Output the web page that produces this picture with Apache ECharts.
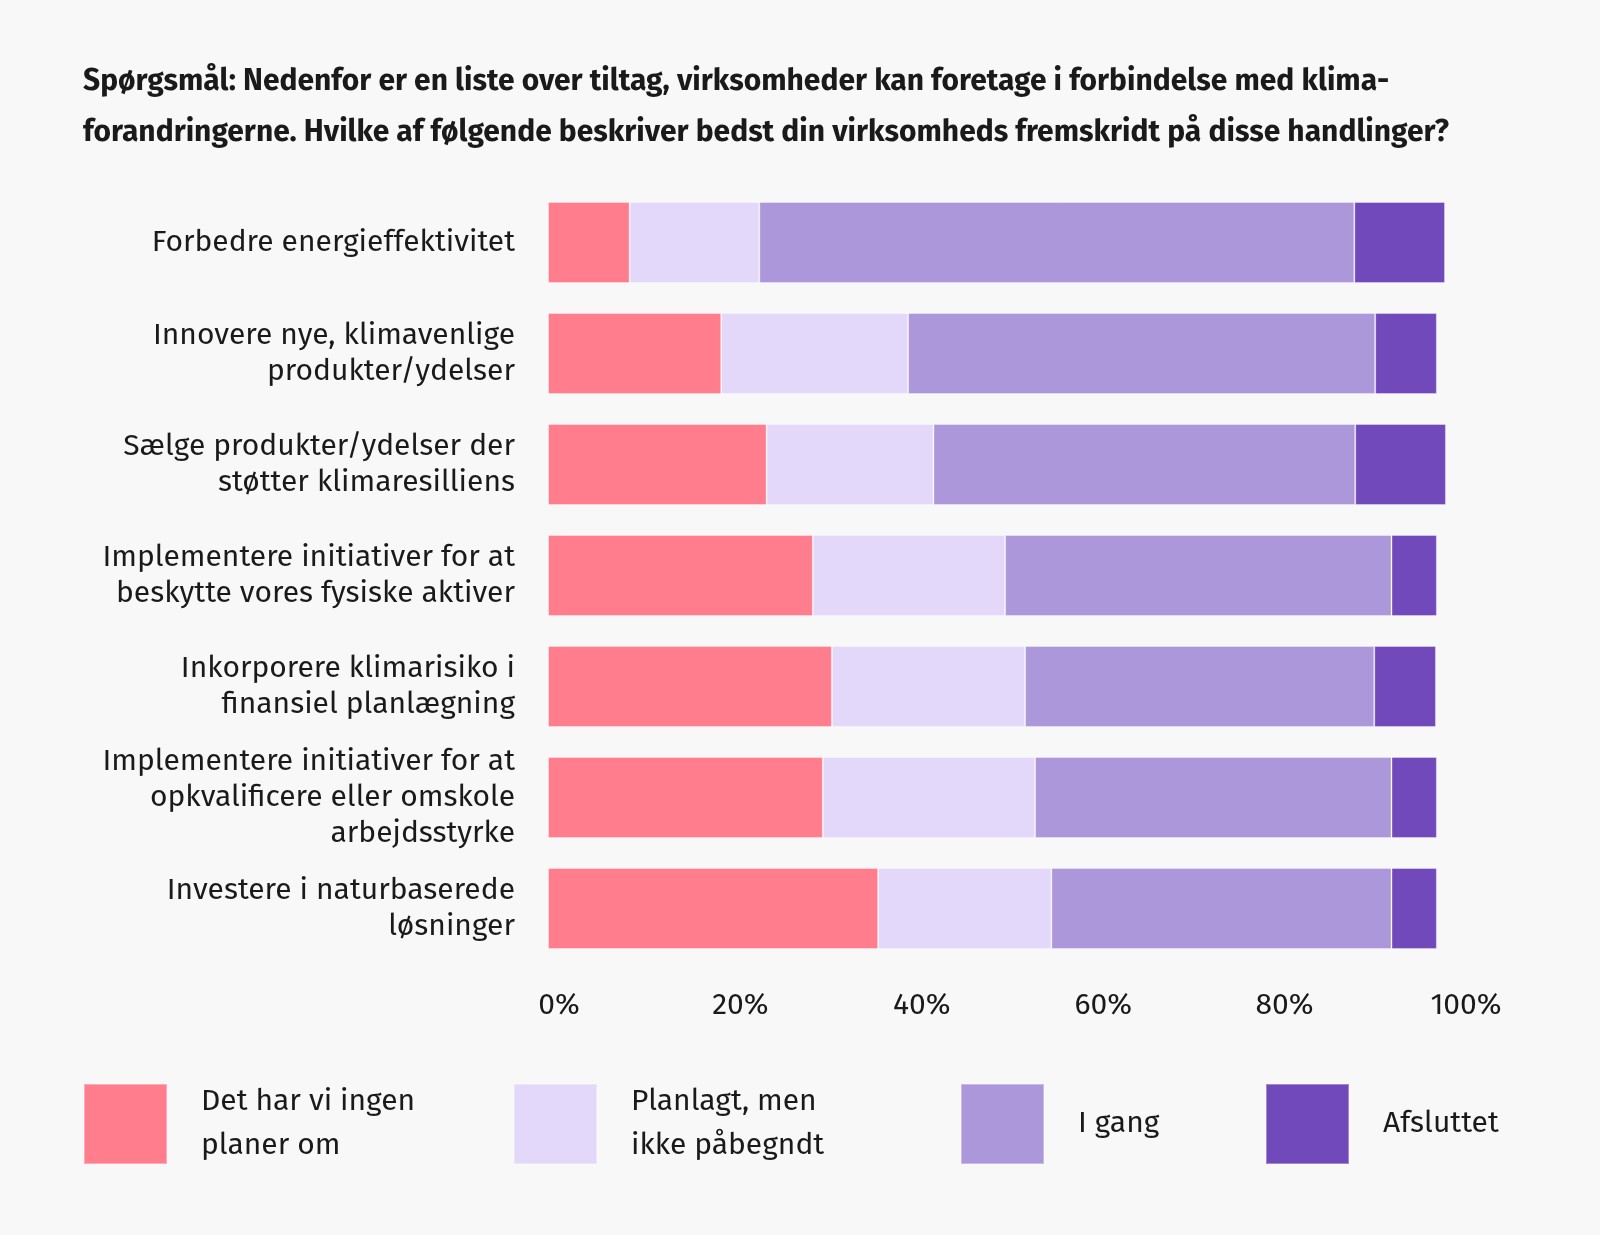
<!DOCTYPE html>
<html>
<head>
<meta charset="utf-8">
<script src="https://cdn.jsdelivr.net/npm/echarts@6/dist/echarts.min.js"></script>
<style>
html,body{margin:0;padding:0;background:#f8f8f8;}
#c{width:1600px;height:1235px;}
</style>
</head>
<body>
<div id="c"></div>
<script>
const titleText = "Spørgsmål: Nedenfor er en liste over tiltag, virksomheder kan foretage i forbindelse med klima-\nforandringerne. Hvilke af følgende beskriver bedst din virksomheds fremskridt på disse handlinger?";
const categories = [
  "Forbedre energieffektivitet",
  "Innovere nye, klimavenlige\nprodukter/ydelser",
  "Sælge produkter/ydelser der\nstøtter klimaresilliens",
  "Implementere initiativer for at\nbeskytte vores fysiske aktiver",
  "Inkorporere klimarisiko i\nfinansiel planlægning",
  "Implementere initiativer for at\nopkvalificere eller omskole\narbejdsstyrke",
  "Investere i naturbaserede\nløsninger"
];
const seriesNames = ["Det har vi ingen planer om", "Planlagt, men ikke påbegndt", "I gang", "Afsluttet"];
const legendLabels = ["Det har vi ingen\nplaner om", "Planlagt, men\nikke påbegndt", "I gang", "Afsluttet"];
const noPlans   = [9.0, 19.1, 24.1, 29.2, 31.3, 30.3, 36.4];
const planned   = [14.3, 20.6, 18.4, 21.2, 21.3, 23.4, 19.1];
const ongoing   = [65.6, 51.5, 46.5, 42.6, 38.5, 39.3, 37.5];
const completed = [10.0, 6.8, 10.0, 5.0, 6.8, 5.0, 5.0];
const tickValues = [0, 20, 40, 60, 80, 100];
const colors = ["#FF7D8D", "#E3D8F9", "#AC97DA", "#7149BA"];

const FONT = "'Fira Sans','Noto Sans','Open Sans',sans-serif";
const chart = echarts.init(document.getElementById('c'));
const allData = [noPlans, planned, ongoing, completed];
const legendLefts = [78, 508, 955, 1260];
const legendTops = [1075, 1075, 1078, 1078];

chart.setOption({
  backgroundColor: '#f8f8f8',
  animation: false,
  textStyle: { fontFamily: FONT, color: '#1a1a1a' },
  title: {
    text: titleText,
    left: 78, top: 51,
    textStyle: { fontFamily: FONT, fontSize: 30, fontWeight: 'bold', color: '#1a1a1a', lineHeight: 51 }
  },
  legend: seriesNames.map((n, i) => ({
    data: [n],
    left: legendLefts[i], top: legendTops[i],
    itemWidth: 83, itemHeight: 80,
    icon: 'rect',
    selectedMode: false,
    formatter: () => legendLabels[i],
    textStyle: { fontFamily: FONT, fontSize: 30, color: '#1a1a1a', lineHeight: 44, padding: [0, 0, 0, 29] }
  })),
  grid: { left: 548, right: 145, top: 187, bottom: 271, containLabel: false },
  xAxis: {
    type: 'value', min: 0, max: 100, interval: 20,
    axisLine: { show: false }, axisTick: { show: false }, splitLine: { show: false },
    axisLabel: {
      formatter: v => tickValues.includes(v) ? v + '%' : '',
      fontFamily: FONT, fontSize: 30, color: '#1a1a1a', margin: 27,
      padding: [0, 0, 0, 22]
    }
  },
  yAxis: {
    type: 'category', data: categories, inverse: true,
    axisLine: { show: false }, axisTick: { show: false }, splitLine: { show: false },
    axisLabel: { fontFamily: FONT, fontSize: 30, color: '#1a1a1a', lineHeight: 36, margin: 33, align: 'right' }
  },
  series: seriesNames.map((n, i) => ({
    name: n, type: 'bar', stack: 'total',
    data: allData[i],
    barWidth: 81,
    itemStyle: { color: colors[i], borderColor: 'rgba(255,255,255,0.35)', borderWidth: 1 }
  }))
});
</script>
</body>
</html>
